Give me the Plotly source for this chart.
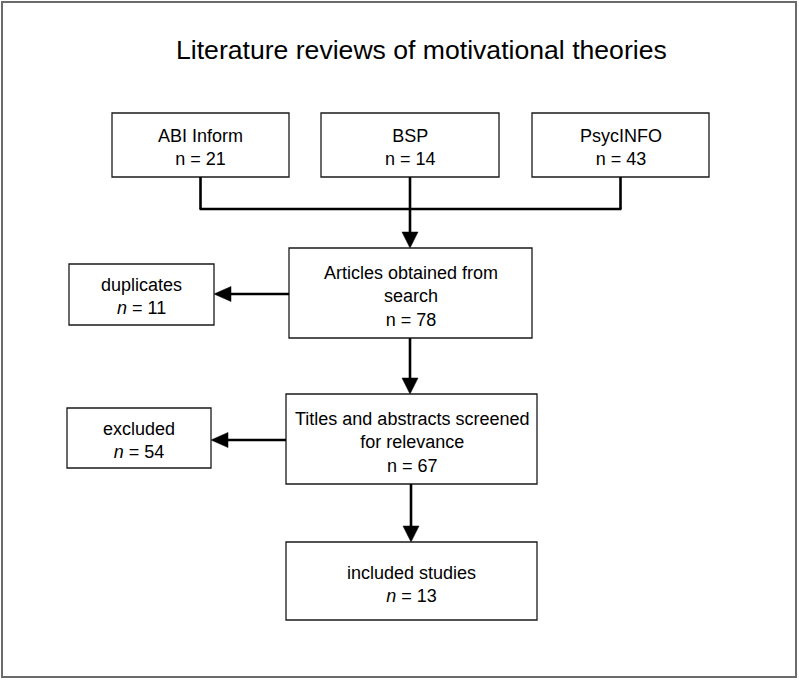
import plotly.graph_objects as go

# ---- data ----
title_text = "Literature reviews of motivational theories"
source_names = ["ABI Inform", "BSP", "PsycINFO"]
source_counts = [21, 14, 43]
stage_labels = ["Articles obtained from<br>search", "Titles and abstracts screened<br>for relevance", "included studies"]
stage_counts = [78, 67, 13]
stage_italic_n = [False, False, True]
removed_labels = ["duplicates", "excluded"]
removed_counts = [11, 54]

# ---- layout geometry (page pixels, y downward) ----
W, H = 799, 680
source_boxes = [(112, 113, 289, 177), (321, 113, 499, 177), (532, 113, 709, 177)]
stage_boxes = [(289, 248, 532, 338), (286, 394, 537, 484), (286, 542, 537, 620)]
removed_boxes = [(69, 264, 214, 325), (67, 408, 211, 468)]
removed_arrow_y = [294, 440]
connector_y = 209
FONT = "Liberation Sans, Arial, sans-serif"
LINE = "#000000"
BOX = "#1a1a1a"

shapes = []
annotations = []

def rect(b, color=BOX, width=1.3):
    shapes.append(dict(type="rect", xref="x", yref="y", x0=b[0], y0=b[1], x1=b[2], y1=b[3],
                       line=dict(color=color, width=width), fillcolor="rgba(0,0,0,0)", layer="above"))

def line(x0, y0, x1, y1, width=2.6):
    shapes.append(dict(type="line", xref="x", yref="y", x0=x0, y0=y0, x1=x1, y1=y1,
                       line=dict(color=LINE, width=width)))

def down_arrow(x, y0, y1, head=16, half=8):
    line(x, y0, x, y1 - head + 1)
    shapes.append(dict(type="path", xref="x", yref="y",
                       path=f"M {x-half},{y1-head} L {x+half},{y1-head} L {x},{y1} Z",
                       fillcolor=LINE, line=dict(color=LINE, width=0.5)))

def left_arrow(y, x0, x1, head=17, half=7.5):
    line(x0, y, x1 + head - 1, y)
    shapes.append(dict(type="path", xref="x", yref="y",
                       path=f"M {x1+head},{y-half} L {x1+head},{y+half} L {x1},{y} Z",
                       fillcolor=LINE, line=dict(color=LINE, width=0.5)))

def label(b, text, size=18, dy=0):
    annotations.append(dict(x=(b[0] + b[2]) / 2, y=(b[1] + b[3]) / 2 + dy, xref="x", yref="y",
                            text=text, showarrow=False, align="center",
                            font=dict(family=FONT, size=size, color="#000000"),
                            xanchor="center", yanchor="middle"))

# outer frame
rect((2, 2, 796, 677), color="#6b6b6b", width=2)

# title
annotations.append(dict(x=421, y=50, xref="x", yref="y", text=title_text, showarrow=False,
                        font=dict(family=FONT, size=26.6, color="#000000"),
                        xanchor="center", yanchor="middle"))

# source boxes
for b, name, cnt in zip(source_boxes, source_names, source_counts):
    rect(b)
    label(b, f"{name}<br>n = {cnt}", dy=2)
    cx = (b[0] + b[2]) / 2
    line(cx, b[3], cx, connector_y)

cx_first = (source_boxes[0][0] + source_boxes[0][2]) / 2
cx_last = (source_boxes[-1][0] + source_boxes[-1][2]) / 2
line(cx_first - 1, connector_y, cx_last + 1, connector_y)

# stage boxes
prev_bottom = connector_y
for i, (b, lab, cnt, it) in enumerate(zip(stage_boxes, stage_labels, stage_counts, stage_italic_n)):
    cx = 410 if i < 2 else 411
    down_arrow(cx, prev_bottom, b[1])
    rect(b)
    nstr = "<i>n</i>" if it else "n"
    label(b, f"{lab}<br>{nstr} = {cnt}", dy=3)
    prev_bottom = b[3]

# removed boxes
for i, (b, lab, cnt) in enumerate(zip(removed_boxes, removed_labels, removed_counts)):
    sb = stage_boxes[i]
    left_arrow(removed_arrow_y[i], sb[0], b[2])
    rect(b)
    label(b, f"{lab}<br><i>n</i> = {cnt}", dy=2)

fig = go.Figure()
fig.update_layout(
    width=W, height=H,
    margin=dict(l=0, r=0, t=0, b=0),
    paper_bgcolor="white", plot_bgcolor="white",
    xaxis=dict(range=[0, W], visible=False, fixedrange=True),
    yaxis=dict(range=[H, 0], visible=False, fixedrange=True),
    shapes=shapes, annotations=annotations, showlegend=False,
)
fig.write_html("out.html", config={"displayModeBar": False},
               post_script="document.body.style.margin='0';document.body.style.overflow='hidden';")
